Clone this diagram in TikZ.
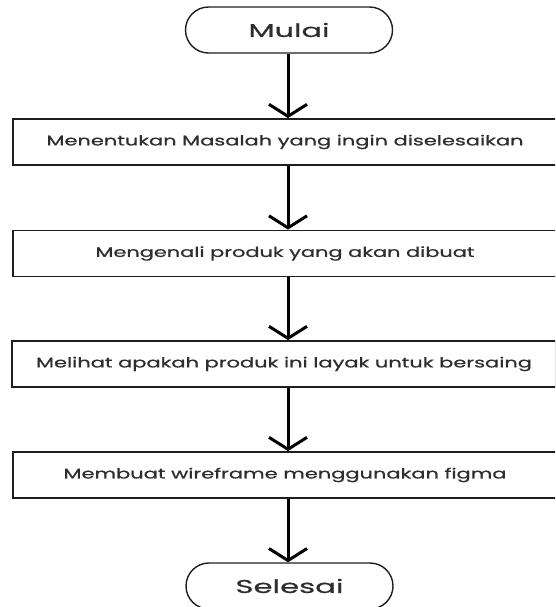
\documentclass[tikz,border=0pt]{standalone}
\usepackage{fontspec}
\usepackage{graphicx}
\setmainfont{Poppins}[FakeBold=0.6,BoldFont={Poppins}]
\usetikzlibrary{arrows.meta}
\definecolor{ink}{HTML}{2E2E2E}
\definecolor{edge}{HTML}{1E1E1E}
\tikzset{
  x=1pt,y=-1pt,
  stepbox/.style={draw=edge,line width=1.8pt,minimum width=544pt,minimum height=46pt,inner sep=0pt,text=ink,font=\fontsize{14}{16}\selectfont\bfseries},
  term/.style={draw=edge,line width=1.4pt,minimum width=207pt,minimum height=46pt,rounded corners=23pt,inner sep=0pt,text=ink,font=\fontsize{18.5}{20}\selectfont\bfseries},
  flow/.style={draw=black,line width=3pt,-{Straight Barb[length=12pt,width=38pt,line width=3pt]}}
}
\newcommand{\widetext}[2]{\resizebox{#1pt}{\height}{#2}}
\begin{document}
\begin{tikzpicture}
\useasboundingbox (0,0) rectangle (555,607);
\clip (0,0) rectangle (555,607);
\node[term] (start) at (289,30) {\widetext{81}{Mulai}};
\node[stepbox] (s1) at (285,142) {\widetext{477}{Menentukan Masalah yang ingin diselesaikan}};
\node[stepbox] (s2) at (285,253.5) {\widetext{379}{Mengenali produk yang akan dibuat}};
\node[stepbox] (s3) at (284,364) {\widetext{496}{Melihat apakah produk ini layak untuk bersaing}};
\node[stepbox] (s4) at (285,475) {\widetext{443}{Membuat wireframe menggunakan figma}};
\node[term] (end) at (289.5,586) {\widetext{108}{Selesai}};
\coordinate (axis) at (288,0);
\draw[flow] (start.south -| axis) -- (axis |- s1.north);
\draw[flow] (axis |- s1.south) -- (axis |- s2.north);
\draw[flow] (axis |- s2.south) -- (axis |- s3.north);
\draw[flow] (axis |- s3.south) -- (axis |- s4.north);
\draw[flow] (axis |- s4.south) -- (end.north -| axis);
\end{tikzpicture}
\end{document}
